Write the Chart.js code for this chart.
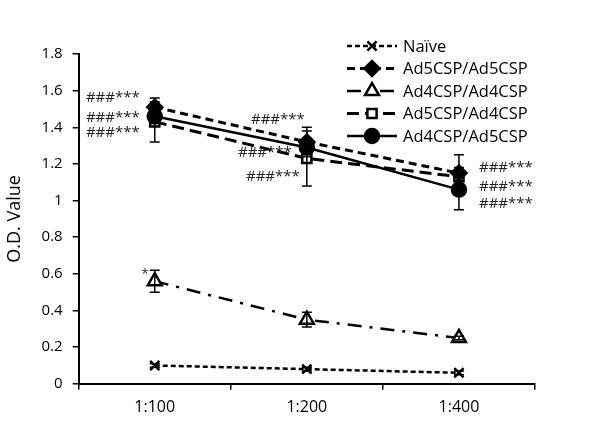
<!DOCTYPE html>
<html>
<head>
<meta charset="utf-8">
<script src="https://cdn.jsdelivr.net/npm/chart.js@4.4.1/dist/chart.umd.min.js"></script>
<style>
  html, body { margin: 0; padding: 0; background: #fff; }
  #wrap { width: 600px; height: 437px; }
</style>
</head>
<body>
<div id="wrap"><canvas id="odChart"></canvas></div>
<script>
// dilutions
const dilutions = ["1:100", "1:200", "1:400"];

// mean O.D. values per group
const naive = [0.10, 0.08, 0.06];
const ad5ad5 = [1.51, 1.32, 1.15];
const ad4ad4 = [0.56, 0.35, 0.25];
const ad5ad4 = [1.43, 1.23, 1.13];
const ad4ad5 = [1.46, 1.29, 1.06];

// error (+/-)
const naiveErr = [0.01, 0.01, 0.01];
const ad5ad5Err = [0.05, 0.08, 0.10];
const ad4ad4Err = [0.06, 0.04, 0.01];
const ad5ad4Err = [0.11, 0.15, 0.05];
const ad4ad5Err = [0.04, 0.05, 0.11];

const yTicks = [0, 0.2, 0.4, 0.6, 0.8, 1, 1.2, 1.4, 1.6, 1.8];

// significance labels: [category index, y value, text]
const sigLeft = [[0, 1.56, "###***"], [0, 1.45, "###***"], [0, 1.37, "###***"],
                 [1, 1.44, "###***"], [1, 1.26, "###***"], [1, 1.13, "###***"],
                 [0, 0.60, "*"]];
const sigLeftDx = [-15, -15, -15, -2, -15, -7, -6];
const sigRight = [[2, 1.18, "###***"], [2, 1.075, "###***"], [2, 0.985, "###***"]];

const FONT = "'Open Sans', sans-serif";

const errorBars = {
    id: "errorBars",
    afterDatasetsDraw(chart) {
        const ctx = chart.ctx;
        const x = chart.scales.x, y = chart.scales.y;
        ctx.save();
        ctx.strokeStyle = "#000";
        ctx.lineWidth = 1.5;
        chart.data.datasets.forEach(ds => {
            ds.data.forEach((v, i) => {
                const e = ds.err[i];
                const px = x.getPixelForValue(i);
                const top = y.getPixelForValue(v + e);
                const bot = y.getPixelForValue(v - e);
                ctx.beginPath();
                ctx.moveTo(px, top); ctx.lineTo(px, bot);
                ctx.moveTo(px - 5, top); ctx.lineTo(px + 5, top);
                ctx.moveTo(px - 5, bot); ctx.lineTo(px + 5, bot);
                ctx.stroke();
            });
        });
        ctx.restore();
    },
    afterDraw(chart) {
        const ctx = chart.ctx;
        const x = chart.scales.x, y = chart.scales.y;
        ctx.save();
        ctx.fillStyle = "#222";
        ctx.textBaseline = "middle";
        ctx.textAlign = "right";
        sigLeft.forEach((s, k) => {
            const f = s[2] === "*" ? "13px " : "15px ";
            ctx.font = f + FONT;
            ctx.fillText(s[2], x.getPixelForValue(s[0]) + sigLeftDx[k], y.getPixelForValue(s[1]));
        });
        ctx.font = "15px " + FONT;
        ctx.textAlign = "left";
        sigRight.forEach(s => {
            ctx.fillText(s[2], x.getPixelForValue(s[0]) + 20, y.getPixelForValue(s[1]));
        });

        // legend with line samples
        ctx.font = "16.5px " + FONT;
        const lx = 347, ly = 46, step = 22.5;
        chart.data.datasets.forEach((ds, k) => {
            const yy = ly + k * step;
            ctx.strokeStyle = "#000";
            ctx.lineWidth = ds.borderWidth;
            ctx.setLineDash(ds.borderDash || []);
            ctx.beginPath();
            ctx.moveTo(lx, yy); ctx.lineTo(lx + 50, yy);
            ctx.stroke();
            ctx.setLineDash([]);
            ctx.lineWidth = ds.pointBorderWidth;
            ctx.fillStyle = ds.pointBackgroundColor;
            Chart.helpers.drawPoint(ctx, {
                pointStyle: ds.pointStyle, radius: ds.pointRadius, borderWidth: ds.pointBorderWidth, rotation: 0
            }, lx + 25, yy);
            ctx.fillStyle = "#000";
            ctx.textAlign = "left";
            ctx.fillText(ds.label, lx + 56, yy + 1);
        });
        ctx.restore();
    }
};

function series(label, data, err, dash, width, style, fill, radius, order) {
    return {
        label: label, data: data, err: err,
        borderColor: "#000", borderWidth: width, borderDash: dash,
        pointStyle: style, pointRadius: radius, pointHoverRadius: radius,
        pointBackgroundColor: fill, pointBorderColor: "#000", pointBorderWidth: 2.5,
        fill: false, tension: 0, order: order
    };
}

new Chart(document.getElementById("odChart"), {
    type: "line",
    data: {
        labels: dilutions,
        datasets: [
            series("Naïve", naive, naiveErr, [5, 3], 2.5, "crossRot", "#000", 6.5, 5),
            series("Ad5CSP/Ad5CSP", ad5ad5, ad5ad5Err, [8, 5], 3, "rectRot", "#000", 7.5, 2),
            series("Ad4CSP/Ad4CSP", ad4ad4, ad4ad4Err, [14, 8, 3, 8], 2.5, "triangle", "#fff", 8, 4),
            series("Ad5CSP/Ad4CSP", ad5ad4, ad5ad4Err, [12, 6], 3, "rect", "#fff", 6.5, 3),
            series("Ad4CSP/Ad5CSP", ad4ad5, ad4ad5Err, [], 2.5, "circle", "#000", 7, 1)
        ]
    },
    options: {
        responsive: true,
        maintainAspectRatio: false,
        animation: false,
        layout: { padding: { top: 54, right: 65, left: 0, bottom: 12 } },
        plugins: {
            legend: { display: false },
            tooltip: { enabled: false }
        },
        scales: {
            x: {
                offset: true,
                grid: { offset: true, drawOnChartArea: false, drawTicks: true, tickLength: 6, color: "#000", lineWidth: 1.5 },
                border: { color: "#000", width: 2 },
                ticks: { color: "#000", font: { family: FONT, size: 16 }, padding: 8 }
            },
            y: {
                min: 0, max: 1.8,
                afterBuildTicks: axis => { axis.ticks = yTicks.map(v => ({ value: v })); },
                grid: { drawOnChartArea: false, drawTicks: true, tickLength: 6, color: "#000", lineWidth: 1.5 },
                border: { color: "#000", width: 2 },
                ticks: { color: "#000", font: { family: FONT, size: 15 }, padding: 10,
                         callback: v => String(+v.toFixed(1)) },
                title: { display: true, text: "O.D. Value", color: "#000", font: { family: FONT, size: 18 }, padding: { top: 4, bottom: 6 } }
            }
        }
    },
    plugins: [errorBars]
});
</script>
</body>
</html>
